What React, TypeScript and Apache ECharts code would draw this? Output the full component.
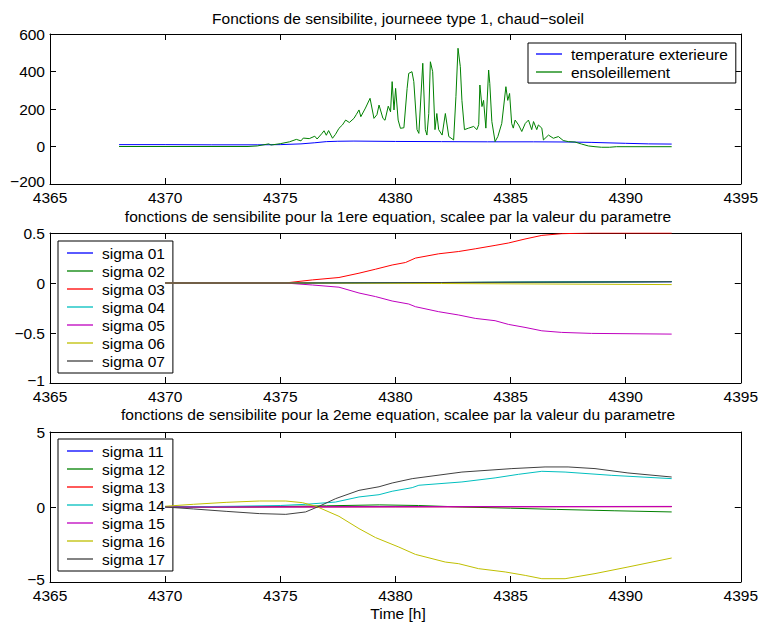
import React, { useEffect, useRef } from "react";
import * as echarts from "echarts";

// ---------- DATA ----------
const TITLE_1 = "Fonctions de sensibilite, journeee type 1, chaud\u2212soleil";
const TITLE_2 = "fonctions de sensibilite pour la 1ere equation, scalee par la valeur du parametre";
const TITLE_3 = "fonctions de sensibilite pour la 2eme equation, scalee par la valeur du parametre";
const X_LABEL = "Time [h]";

const X_MIN = 4365;
const X_MAX = 4395;
const X_STEP = 5;

const Y1 = { min: -200, max: 600, step: 200 };
const Y2 = { min: -1, max: 0.5, step: 0.5 };
const Y3 = { min: -5, max: 5, step: 5 };

const NAMES_1 = ["temperature exterieure", "ensoleillement"];
const NAMES_2 = ["sigma 01", "sigma 02", "sigma 03", "sigma 04", "sigma 05", "sigma 06", "sigma 07"];
const NAMES_3 = ["sigma 11", "sigma 12", "sigma 13", "sigma 14", "sigma 15", "sigma 16", "sigma 17"];

const COLORS = ["#0000ff", "#008000", "#ff0000", "#00bfbf", "#bf00bf", "#bfbf00", "#404040"];

// panel 1
const tempExt: [number, number][] = [
  [4368, 10], [4370, 10], [4372, 9], [4374, 9], [4375, 10], [4375.9, 14], [4376.5, 20],
  [4377, 26], [4377.5, 28], [4378.2, 29], [4380, 27], [4382, 26], [4384, 25], [4386, 25],
  [4387.5, 24], [4388.5, 22], [4390, 17], [4391, 14], [4392, 13],
];
const ensoleillement: [number, number][] = [
  [4368, 0], [4373.6, 0], [4374.0, 3], [4374.5, 14], [4374.6, 8], [4375.0, 15], [4375.4, 25],
  [4375.7, 38], [4375.9, 30], [4376.0, 45], [4376.26, 42], [4376.5, 55], [4376.6, 40],
  [4376.8, 68], [4376.9, 84], [4377.0, 60], [4377.1, 85], [4377.27, 44], [4377.4, 65],
  [4377.55, 97], [4377.7, 115], [4377.84, 141], [4378.0, 128], [4378.2, 150], [4378.3, 170],
  [4378.42, 195], [4378.5, 159], [4378.7, 205], [4378.9, 257], [4379.07, 150], [4379.2, 170],
  [4379.29, 221], [4379.46, 150], [4379.55, 140], [4379.69, 215], [4379.79, 185],
  [4379.86, 346], [4379.94, 195], [4380.01, 310], [4380.12, 141], [4380.22, 97],
  [4380.37, 100], [4380.51, 310], [4380.58, 390], [4380.72, 399], [4380.8, 346],
  [4380.94, 90], [4381.02, 70], [4381.19, 444], [4381.3, 90], [4381.37, 61], [4381.45, 176],
  [4381.52, 452], [4381.62, 399], [4381.72, 90], [4381.8, 176], [4381.88, 90], [4382.03, 61],
  [4382.17, 176], [4382.32, 53], [4382.53, 35], [4382.63, 266], [4382.72, 524],
  [4382.82, 426], [4382.89, 245], [4383.0, 90], [4383.18, 98], [4383.4, 107], [4383.54, 90],
  [4383.62, 117], [4383.67, 328], [4383.76, 213], [4383.83, 246], [4383.93, 98],
  [4384.05, 408], [4384.1, 336], [4384.19, 133], [4384.33, 26], [4384.45, 53],
  [4384.62, 123], [4384.8, 319], [4384.88, 246], [4384.96, 283], [4385.05, 123],
  [4385.12, 98], [4385.2, 141], [4385.35, 115], [4385.49, 80], [4385.64, 123],
  [4385.78, 141], [4385.92, 90], [4386.0, 133], [4386.14, 90], [4386.21, 115],
  [4386.36, 98], [4386.43, 35], [4386.65, 61], [4386.86, 44], [4387.08, 53], [4387.29, 32],
  [4387.51, 26], [4387.8, 24], [4388.09, 13], [4388.38, 3], [4388.67, -1], [4388.95, -4],
  [4389.3, -4], [4389.6, -1], [4392, -1],
];

// panel 2
const sigma01: [number, number][] = [[4370, 0], [4376, 0], [4382, 0.004], [4392, 0.012]];
const sigma02: [number, number][] = [[4370, 0], [4376, 0], [4382, 0.005], [4392, 0.014]];
const sigma03: [number, number][] = [
  [4370, 0], [4375.2, 0], [4376.4, 0.031], [4377.55, 0.055], [4378.42, 0.098], [4379.14, 0.138],
  [4379.86, 0.18], [4380.44, 0.205], [4380.87, 0.249], [4381.88, 0.292], [4382.75, 0.315],
  [4383.47, 0.342], [4384.33, 0.376], [4384.91, 0.4], [4385.63, 0.44], [4386.36, 0.476],
  [4387.22, 0.493], [4388.52, 0.5], [4392, 0.5],
];
const sigma04: [number, number][] = [[4370, 0], [4376, 0], [4382, 0.005], [4392, 0.015]];
const sigma05: [number, number][] = [
  [4370, 0], [4375.2, 0], [4376.4, -0.02], [4377.55, -0.042], [4378.42, -0.1], [4379.14, -0.136],
  [4379.86, -0.18], [4380.58, -0.21], [4380.87, -0.237], [4381.88, -0.287], [4382.75, -0.32],
  [4383.47, -0.354], [4384.33, -0.377], [4384.91, -0.414], [4385.63, -0.444],
  [4386.36, -0.478], [4387.22, -0.494], [4388.52, -0.504], [4392, -0.511],
];
const sigma06: [number, number][] = [[4370, 0], [4376, 0], [4382, -0.005], [4392, -0.016]];
const sigma07: [number, number][] = [[4370, 0], [4376, 0], [4382, 0.005], [4392, 0.013]];

// panel 3
const sigma11: [number, number][] = [[4370, 0], [4380, 0.02], [4392, 0.03]];
const sigma12: [number, number][] = [
  [4370, 0], [4374, 0.02], [4377, 0.08], [4379.3, 0.14], [4381, 0.1], [4382.9, 0.0],
  [4385, -0.08], [4387, -0.16], [4389.5, -0.25], [4392, -0.33],
];
const sigma13: [number, number][] = [[4370, 0], [4380, 0.01], [4392, 0.02]];
const sigma14: [number, number][] = [
  [4370, 0], [4373, 0.05], [4375, 0.1], [4376.1, 0.18], [4377.4, 0.33], [4378.42, 0.67],
  [4379.29, 0.82], [4379.86, 1.05], [4380.73, 1.29], [4381.02, 1.45], [4382.89, 1.67],
  [4384.33, 1.94], [4385.35, 2.18], [4386.36, 2.38], [4387.37, 2.33], [4389.4, 2.11],
  [4392, 1.89],
];
const sigma15: [number, number][] = [[4370, 0], [4380, 0.02], [4392, 0.04]];
const sigma16: [number, number][] = [
  [4370, 0.05], [4371.23, 0.18], [4372.65, 0.31], [4374.09, 0.4], [4375.24, 0.4],
  [4375.96, 0.29], [4376.55, 0.05], [4377.55, -0.62], [4378.42, -1.44], [4379.14, -2.04],
  [4380.15, -2.67], [4380.87, -3.16], [4382.17, -3.67], [4382.75, -3.78], [4383.61, -4.11],
  [4384.77, -4.33], [4385.64, -4.56], [4386.36, -4.78], [4387.37, -4.78], [4388.67, -4.44],
  [4390.1, -4.0], [4392, -3.4],
];
const sigma17: [number, number][] = [
  [4370, 0], [4371.23, -0.13], [4372.65, -0.29], [4374.09, -0.44], [4375.24, -0.49],
  [4376.1, -0.33], [4376.69, 0.05], [4377.41, 0.56], [4378.42, 1.11], [4379.29, 1.35],
  [4379.86, 1.6], [4380.73, 1.89], [4382.89, 2.33], [4385.06, 2.56], [4386.5, 2.67],
  [4387.5, 2.67], [4388.67, 2.56], [4390.1, 2.27], [4392, 2.0],
];

const DATA_1 = [tempExt, ensoleillement];
const DATA_2 = [sigma01, sigma02, sigma03, sigma04, sigma05, sigma06, sigma07];
const DATA_3 = [sigma11, sigma12, sigma13, sigma14, sigma15, sigma16, sigma17];

// ---------- LAYOUT ----------
const FONT = '"Liberation Sans", Arial, Helvetica, sans-serif';
const FS = 15.5;
const PLOT_LEFT = 50;
const PLOT_W = 693;
const PLOT_H = 150;
const PLOT_TOPS = [34, 233, 432];
const TITLE_X = 398;
const TITLE_YS = [18, 216, 414];

const fmt = (v: number) => String(v).replace("-", "\u2212");

export default function App() {
  const ref = useRef<HTMLDivElement>(null);

  useEffect(() => {
    if (!ref.current) return;
    const chart = echarts.init(ref.current, null, { renderer: "svg" });

    const grids = PLOT_TOPS.map((t) => ({
      left: PLOT_LEFT,
      top: t,
      width: PLOT_W,
      height: PLOT_H,
      containLabel: false,
    }));

    const yRanges = [Y1, Y2, Y3];

    const baseAxisLine = { show: true, onZero: false, lineStyle: { color: "#000", width: 1 } };
    const tick = { show: true, inside: true, length: 6, lineStyle: { color: "#000", width: 1 } };

    const xAxes: any[] = [];
    const yAxes: any[] = [];
    for (let i = 0; i < 3; i++) {
      xAxes.push({
        type: "value",
        gridIndex: i,
        position: "bottom",
        min: X_MIN,
        max: X_MAX,
        interval: X_STEP,
        axisLine: baseAxisLine,
        axisTick: tick,
        splitLine: { show: false },
        axisLabel: {
          formatter: fmt,
          color: "#000",
          fontSize: FS,
          fontFamily: FONT,
          lineHeight: 12,
          margin: 7,
        },
      });
      const yMin = yRanges[i].min;
      yAxes.push({
        type: "value",
        gridIndex: i,
        position: "left",
        min: yMin,
        max: yRanges[i].max,
        interval: yRanges[i].step,
        axisLine: baseAxisLine,
        axisTick: tick,
        splitLine: { show: false },
        axisLabel: {
          formatter: (v: number) => (v === yMin ? `{lo|${fmt(v)}}` : fmt(v)),
          color: "#000",
          fontSize: FS,
          fontFamily: FONT,
          lineHeight: 12,
          margin: 5,
          rich: {
            lo: {
              color: "#000",
              fontSize: FS,
              fontFamily: FONT,
              lineHeight: 12,
              padding: [0, 0, 5, 0],
            },
          },
        },
      });
    }
    for (let i = 0; i < 3; i++) {
      xAxes.push({
        type: "value",
        gridIndex: i,
        position: "top",
        min: X_MIN,
        max: X_MAX,
        interval: X_STEP,
        axisLine: baseAxisLine,
        axisTick: tick,
        splitLine: { show: false },
        axisLabel: { show: false },
      });
      yAxes.push({
        type: "value",
        gridIndex: i,
        position: "right",
        min: yRanges[i].min,
        max: yRanges[i].max,
        interval: yRanges[i].step,
        axisLine: baseAxisLine,
        axisTick: tick,
        splitLine: { show: false },
        axisLabel: { show: false },
      });
    }

    const series: any[] = [];
    const addSeries = (names: string[], data: [number, number][][], idx: number) => {
      names.forEach((n, k) => {
        series.push({
          type: "line",
          name: n,
          xAxisIndex: idx,
          yAxisIndex: idx,
          data: data[k],
          symbol: "none",
          showSymbol: false,
          lineStyle: { color: COLORS[k], width: 1 },
          itemStyle: { color: COLORS[k] },
          z: 2 + k,
        });
      });
    };
    addSeries(NAMES_1, DATA_1, 0);
    addSeries(NAMES_2, DATA_2, 1);
    addSeries(NAMES_3, DATA_3, 2);

    const legendBase = {
      orient: "vertical",
      selectedMode: false,
      icon: "rect",
      itemWidth: 26,
      itemHeight: 1.3,
      itemGap: 2,
      backgroundColor: "#fff",
      borderColor: "#000",
      borderWidth: 1,
      borderRadius: 0,
      textStyle: { color: "#000", fontSize: FS, fontFamily: FONT, padding: [0, 0, 0, 4] },
    };

    const legends = [
      { ...legendBase, data: NAMES_1, left: 528, top: 43, padding: [3, 8, 3, 8] },
      { ...legendBase, data: NAMES_2, left: 58, top: 241, padding: [4, 8, 4, 9] },
      { ...legendBase, data: NAMES_3, left: 58, top: 439, padding: [4, 8, 4, 9] },
    ];

    const textEl = (t: string, y: number) => ({
      type: "text",
      x: TITLE_X,
      y,
      style: {
        text: t,
        fill: "#000",
        fontSize: FS,
        fontFamily: FONT,
        textAlign: "center",
        textVerticalAlign: "middle",
      },
    });

    chart.setOption({
      animation: false,
      backgroundColor: "#fff",
      grid: grids,
      xAxis: xAxes,
      yAxis: yAxes,
      legend: legends,
      series,
      graphic: [
        textEl(TITLE_1, TITLE_YS[0]),
        textEl(TITLE_2, TITLE_YS[1]),
        textEl(TITLE_3, TITLE_YS[2]),
        textEl(X_LABEL, 613),
      ],
    });

    return () => chart.dispose();
  }, []);

  return (
    <div
      ref={ref}
      style={{ position: "fixed", left: 0, top: 0, width: 761, height: 624, background: "#fff" }}
    />
  );
}
